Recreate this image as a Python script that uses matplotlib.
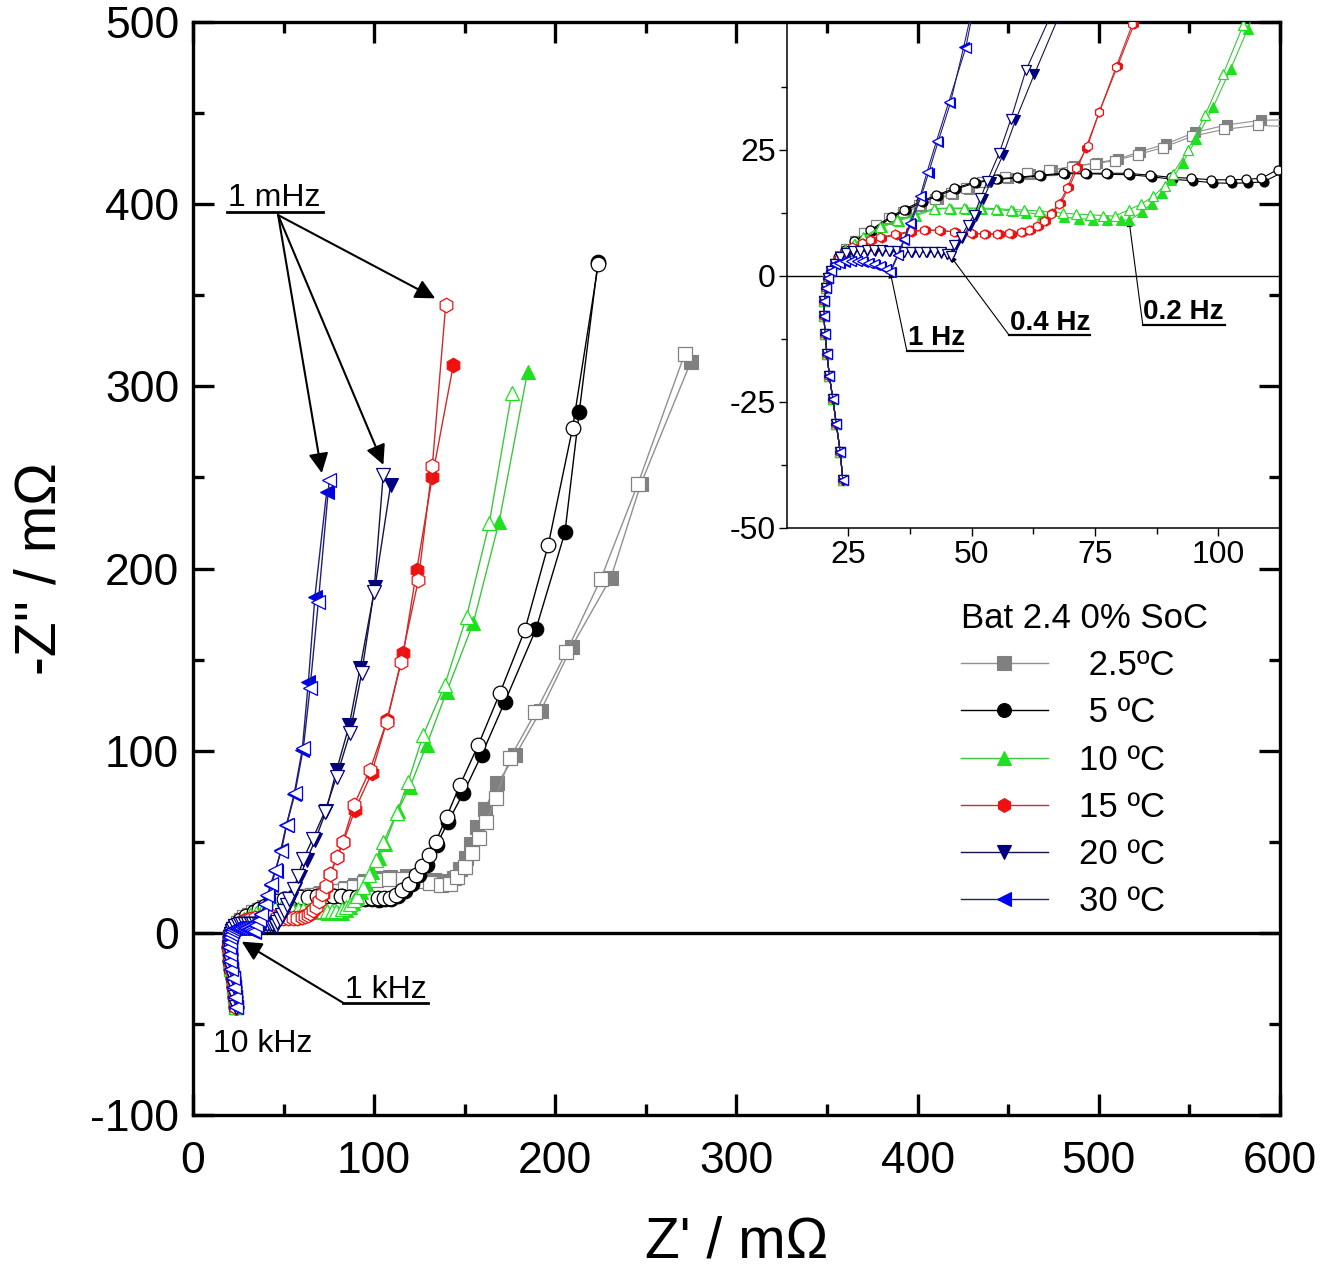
import matplotlib
matplotlib.use("Agg")
import matplotlib.pyplot as plt

plt.rcParams['font.family'] = ['Liberation Sans', 'DejaVu Sans']
plt.rcParams['axes.unicode_minus'] = False

# shared inductive tail (10 kHz -> ~1 kHz)
hf_re = [23.9, 23.4, 22.6, 21.9, 21.2, 20.7, 20.3, 20.1, 20.2, 20.5, 21.0, 21.6, 22.3]
hf_im = [-40.5, -35.0, -29.5, -24.5, -20.0, -15.5, -11.5, -8.0, -5.0, -2.5, -0.5, 1.0, 2.3]

# 2.5 C
t25_re_f = [23.5, 24.9, 26.6, 28.7, 31.1, 33.8, 36.7, 39.8, 43.1, 46.3, 49.4, 52.8, 57.3, 61.8, 66.2, 70.8,
            75.5, 79.6, 84.2, 89.4, 95.2, 101.8, 108.6, 118, 126, 133, 139, 144, 147.5, 150.5, 153.5, 157,
            161, 168, 178, 192, 209, 230.7, 247.2, 274.8]
t25_im_f = [3.7, 5.2, 6.8, 8.4, 9.9, 11.3, 12.6, 13.9, 15.1, 16.2, 17.2, 18.5, 19.4, 20.2, 20.9, 21.7,
            22.4, 23.1, 24.6, 26.1, 28.4, 29.9, 30.8, 31, 30, 29, 28.5, 30, 35, 41, 49, 58,
            68, 82, 97.5, 122, 157, 195, 246.4, 313.5]
t25_re_o = [23.3, 24.6, 26.3, 28.3, 30.7, 33.3, 36.2, 39.3, 42.6, 45.8, 48.8, 52.2, 56.8, 61.3, 65.7, 70.3,
            75.0, 79.1, 83.7, 88.8, 94.6, 101.2, 108.0, 116, 124, 131, 137, 142, 146, 150, 154, 158,
            162, 167, 175, 189, 206, 225, 245.6, 271.5]
t25_im_o = [3.8, 5.3, 6.9, 8.5, 10.0, 11.4, 12.7, 14.0, 15.2, 16.3, 17.3, 18.6, 19.5, 20.3, 20.9, 21.6,
            22.2, 22.8, 24.0, 25.4, 27.6, 29.0, 29.8, 29.5, 28.5, 27.5, 26.5, 27.0, 30.5, 36, 44, 52,
            61, 74, 96, 121, 154, 194, 246.5, 318]

# 5 C
t5_re_f = [23.1, 24.5, 26.5, 29.8, 33.9, 36.7, 40.1, 43.1, 46.9, 50.9, 55.3, 59.7, 64.1, 68.9, 73.3, 77.7,
           82.1, 86.5, 90.9, 94.9, 99.0, 102.7, 106.1, 109.2, 113, 117, 121, 125, 129, 134.5, 140.9, 149.2,
           159.3, 172.2, 189.3, 205.3, 213.2, 223.5]
t5_im_f = [3.5, 4.9, 6.7, 8.9, 11.6, 13.0, 14.6, 15.8, 17.2, 18.4, 19.1, 19.4, 19.8, 20.2, 20.2, 20.1,
           20.0, 19.6, 19.1, 18.8, 18.4, 18.3, 18.4, 18.6, 20.5, 23, 27, 31.5, 37, 48.3, 61.1, 76.7,
           97.7, 127, 166.7, 219.8, 286, 368]
t5_re_o = [23.0, 24.3, 26.2, 29.5, 33.6, 36.3, 39.7, 42.7, 46.5, 50.5, 54.9, 59.3, 63.7, 68.5, 72.9, 77.3,
           81.7, 86.1, 90.5, 94.5, 98.6, 102.3, 105.7, 108.7, 112, 115.5, 119.5, 123, 126.5, 130, 134, 140,
           147.4, 157.5, 169.4, 183.2, 196.1, 209.5, 223.7]
t5_im_o = [3.6, 5.0, 6.8, 9.0, 11.7, 13.1, 14.7, 15.9, 17.3, 18.5, 19.2, 19.5, 19.9, 20.3, 20.3, 20.3,
           20.3, 19.9, 19.5, 19.3, 19.0, 19.0, 19.1, 19.3, 21, 23.5, 27, 31.5, 36.5, 42.5, 50, 63.8,
           81.2, 103.2, 131.6, 166.3, 213, 277, 367]

# 10 C
t10_re_f = [23.1, 24.5, 26.4, 28.4, 31.8, 35.2, 38.7, 42.6, 45.8, 48.8, 52.2, 55.3, 58.3, 61.1, 64.3, 68.8,
            71.8, 74.6, 77.5, 80.3, 82.0, 84.5, 86.5, 88.5, 90.5, 92.8, 95.5, 99.0, 102.5, 106.0, 113.0, 119.8,
            129.0, 140.0, 154.7, 169.0, 184.7]
t10_im_f = [3.6, 4.9, 6.2, 7.5, 9.6, 10.9, 11.9, 13.2, 13.3, 13.3, 13.2, 13.1, 12.8, 12.5, 12.1, 11.6,
            11.3, 11.1, 11.0, 11.0, 11.0, 12.6, 14.3, 16.4, 19.0, 22.4, 27.0, 33.5, 41.0, 49.0, 67.0, 80.3,
            103.2, 132.4, 170.0, 225.7, 308.1]
t10_re_o = [23.0, 24.4, 26.2, 28.1, 31.5, 34.9, 38.3, 42.3, 45.4, 48.4, 51.8, 54.9, 57.9, 60.6, 63.7, 68.5,
            71.2, 73.9, 76.6, 79.0, 82.0, 84.4, 86.8, 89.1, 90.8, 93.9, 97.3, 101.0, 105.1, 112.4, 118.8, 127.1,
            139, 151, 163.5, 175.9]
t10_im_o = [3.7, 5.0, 6.3, 7.6, 9.7, 11.0, 12.0, 13.3, 13.4, 13.4, 13.4, 13.3, 13.1, 13.0, 12.8, 12.4,
            12.2, 12.1, 11.9, 11.8, 13.1, 14.2, 15.7, 17.8, 20.2, 25.0, 31.8, 40.0, 49.8, 65.7, 83, 108.7,
            136.1, 173.6, 224.8, 296.2]

# 15 C
t15_re_f = [23.3, 24.6, 26.0, 28.0, 29.9, 31.9, 34.9, 38.0, 40.8, 43.9, 46.9, 50.3, 53.0, 55.7, 58.1, 60.4,
            62.0, 63.6, 65.0, 66.4, 68.1, 69.8, 71.6, 73.2, 75.9, 79.6, 83.0, 89.4, 98.6, 107.2, 116.1, 123.5,
            132.1, 143.7]
t15_im_f = [3.3, 4.5, 5.5, 6.4, 7.0, 7.5, 8.1, 8.7, 9.0, 8.9, 8.6, 8.3, 8.2, 8.2, 8.3, 8.6,
            9.1, 9.9, 10.9, 12.4, 14.4, 17.6, 21.6, 25.4, 32.5, 41.6, 50.0, 67.5, 87.6, 116.9, 153.5, 199.2,
            250.4, 311.7]
t15_re_o = [23.2, 24.4, 25.7, 27.7, 29.5, 31.5, 34.5, 37.6, 40.3, 43.4, 46.4, 49.8, 52.5, 55.2, 57.6, 60.0,
            61.6, 63.3, 64.7, 66.0, 67.7, 69.4, 71.1, 73.5, 75.9, 79.3, 82.6, 88.9, 97.7, 106.9, 114.8, 124.4,
            132.1, 139.5]
t15_im_o = [3.4, 4.6, 5.6, 6.5, 7.1, 7.6, 8.2, 8.8, 9.1, 9.0, 8.7, 8.4, 8.3, 8.3, 8.4, 8.7,
            9.1, 9.9, 10.8, 12.3, 14.2, 17.4, 21.3, 25.7, 32.5, 41.4, 49.9, 70.3, 89.5, 116.0, 148.9, 193.7,
            256.3, 344.7]

# 20 C
t20_re_f = [23.4, 24.7, 26.0, 27.4, 28.9, 30.4, 31.9, 33.4, 34.9, 36.4, 37.9, 39.4, 40.9, 42.4, 43.9, 45.1,
            45.9, 46.8, 48.1, 49.6, 51.0, 52.4, 53.9, 56.4, 58.9, 62.7, 67.5, 73.5, 79.3, 86.3, 92.2, 100.5,
            109.1]
t20_im_f = [3.6, 4.3, 4.7, 4.8, 4.9, 4.9, 4.9, 4.8, 4.7, 4.6, 4.6, 4.6, 4.6, 4.6, 4.5, 4.2,
            3.9, 6.0, 7.5, 9.9, 11.9, 15.2, 18.6, 24.0, 30.8, 39.9, 51.0, 67.0, 89.5, 114.2, 145.3, 190.0,
            245.9]
t20_re_o = [23.3, 24.6, 25.9, 27.3, 28.8, 30.3, 31.8, 33.3, 34.8, 36.3, 37.8, 39.3, 40.8, 42.3, 43.8, 45.0,
            45.8, 46.5, 47.8, 49.2, 50.5, 51.8, 53.2, 55.6, 58.0, 61.0, 66.0, 72.8, 79.3, 86.6, 93.1, 99.9,
            105.0]
t20_im_o = [3.7, 4.4, 4.8, 4.9, 5.0, 5.0, 5.0, 4.9, 4.8, 4.7, 4.7, 4.7, 4.7, 4.7, 4.6, 4.3,
            3.9, 6.1, 7.6, 10.0, 12.0, 15.3, 18.8, 24.3, 31.1, 40.7, 51.5, 66.6, 85.8, 109.6, 142.5, 187.3,
            251.4]

# 30 C
t30_re_f = [23.3, 24.4, 25.6, 26.8, 28.0, 29.2, 30.4, 31.6, 32.7, 33.6, 35.1, 36.4, 37.7, 39.8, 41.3, 43.2,
            45.7, 48.4, 51.5, 55.8, 60.3, 63.7, 67.3, 73.8]
t30_im_f = [2.5, 2.7, 2.8, 2.8, 2.7, 2.5, 2.2, 1.8, 1.3, 0.7, 4.0, 7.1, 10.3, 15.7, 20.4, 26.5,
            34.2, 45.3, 59.0, 76.0, 100.5, 137.9, 184.6, 242.2]
t30_re_o = [23.2, 24.3, 25.5, 26.7, 27.9, 29.1, 30.3, 31.5, 32.6, 33.5, 35.0, 36.3, 37.5, 39.6, 41.0, 42.9,
            45.4, 48.8, 51.7, 56.3, 60.9, 64.6, 69.2, 75.2]
t30_im_o = [2.6, 2.8, 2.9, 2.9, 2.8, 2.6, 2.3, 1.9, 1.4, 0.8, 4.1, 7.2, 10.4, 15.8, 20.6, 26.7,
            34.5, 45.1, 59.3, 76.7, 101.4, 134.3, 181.8, 248.6]

labels = [' 2.5ºC', ' 5 ºC', '10 ºC', '15 ºC', '20 ºC', '30 ºC']
markers = ['s', 'o', '^', 'h', 'v', '<']
mcolors = ['#808080', '#000000', '#1ee01e', '#f01010', '#000080', '#0000f0']
lcolors = ['#909090', '#000000', '#3cc83c', '#d02a2a', '#14144a', '#20207a']
filled = [(t25_re_f, t25_im_f), (t5_re_f, t5_im_f), (t10_re_f, t10_im_f),
          (t15_re_f, t15_im_f), (t20_re_f, t20_im_f), (t30_re_f, t30_im_f)]
opened = [(t25_re_o, t25_im_o), (t5_re_o, t5_im_o), (t10_re_o, t10_im_o),
          (t15_re_o, t15_im_o), (t20_re_o, t20_im_o), (t30_re_o, t30_im_o)]

fig = plt.figure(figsize=(13.2, 12.71), dpi=100)
ax = fig.add_axes([0.1462, 0.1227, 0.8235, 0.86])
axin = fig.add_axes([0.5962, 0.5848, 0.3735, 0.3979])


def draw(a, ms, lw):
    handles = []
    for i in range(6):
        xf, yf = filled[i]
        xo, yo = opened[i]
        h, = a.plot(hf_re + xf, hf_im + yf, color=lcolors[i], lw=lw, marker=markers[i], ms=ms,
                    mfc=mcolors[i], mec=mcolors[i], mew=0.8, zorder=3 + i)
        a.plot(hf_re + xo, hf_im + yo, color=lcolors[i], lw=lw, marker=markers[i], ms=ms,
               mfc='white', mec=mcolors[i], mew=0.9, zorder=3 + i)
        handles.append(h)
    return handles


handles = draw(ax, 10.5, 1.0)
ax.axhline(0, color='black', lw=2.4, zorder=2)
ax.set_xlim(0, 600)
ax.set_ylim(-100, 500)
ax.set_xticks(range(0, 601, 100))
ax.set_yticks(range(-100, 501, 100))
ax.set_xticks(range(50, 600, 100), minor=True)
ax.set_yticks(range(-50, 500, 100), minor=True)
ax.tick_params(which='both', direction='in', top=True, right=True, width=2.4, labelsize=32)
ax.tick_params(which='major', length=15)
ax.tick_params(which='minor', length=8)
ax.tick_params(axis='x', pad=19)
ax.tick_params(axis='y', pad=10)
for s in ax.spines.values():
    s.set_linewidth(2.4)
ax.set_xlabel("Z' / mΩ", fontsize=41, labelpad=24)
ax.set_ylabel("-Z'' / mΩ", fontsize=41, labelpad=16)

# 1 mHz annotation
ax.text(19.5, 399, '1 mHz', fontsize=23, va='baseline')
ax.plot([18.6, 71.6], [395.5, 395.5], color='black', lw=2)
for tip in [(71.1, 252.4), (105.1, 256.9), (133.7, 348.3)]:
    ax.annotate('', xy=tip, xytext=(47, 394),
                arrowprops=dict(arrowstyle='-|>', mutation_scale=30, lw=1.5, color='black',
                                shrinkA=0, shrinkB=0))
# 1 kHz / 10 kHz
ax.text(84, -35.5, '1 kHz', fontsize=23, va='baseline')
ax.plot([82.9, 129.8], [-38.4, -38.4], color='black', lw=2)
ax.annotate('', xy=(26.9, -4.8), xytext=(82.9, -38.4),
            arrowprops=dict(arrowstyle='-|>', mutation_scale=30, lw=1.5, color='black',
                            shrinkA=0, shrinkB=0))
ax.text(11, -65.3, '10 kHz', fontsize=23, va='baseline')

leg = ax.legend(handles, labels, title='Bat 2.4 0% SoC', loc='upper left',
                bbox_to_anchor=(961 / 1320, 1 - 602 / 1271), bbox_transform=fig.transFigure,
                frameon=False, fontsize=25, title_fontsize=25, handlelength=2.5,
                handletextpad=0.9, labelspacing=0.41, borderaxespad=0, borderpad=0,
                markerscale=0.95)
leg._legend_box.align = 'left'

# inset (transparent so the main frame ticks stay visible)
draw(axin, 6.5, 0.8)
axin.axhline(0, color='black', lw=1.0, zorder=2)
axin.set_xlim(12.6, 112.5)
axin.set_ylim(-50, 50.3)
axin.set_xticks([25, 50, 75, 100])
axin.set_yticks([-50, -25, 0, 25])
axin.set_xticks([12.5 + 25 * k for k in range(1, 4)], minor=True)
axin.set_yticks([-37.5, -12.5, 12.5, 37.5], minor=True)
axin.tick_params(which='both', direction='out', width=1.0, labelsize=23)
axin.tick_params(axis='x', pad=3)
axin.tick_params(axis='y', pad=2)
axin.tick_params(which='major', length=6)
axin.tick_params(which='minor', length=4.5)
axin.spines['top'].set_visible(False)
axin.spines['right'].set_visible(False)
axin.spines['left'].set_linewidth(1.1)
axin.spines['bottom'].set_linewidth(1.1)
axin.patch.set_visible(False)

for txt, tx, ty, ux0, ux1, uy, tip in [
        ('1 Hz', 37.2, -13.8, 36.9, 48.3, -15.0, (33.5, 0.8)),
        ('0.4 Hz', 57.7, -10.8, 57.6, 74.1, -11.8, (45.7, 3.9)),
        ('0.2 Hz', 84.8, -8.7, 84.7, 101.4, -9.8, (81.9, 11.0))]:
    axin.text(tx, ty, txt, fontsize=20, fontweight='bold', va='baseline')
    axin.plot([ux0, ux1], [uy, uy], color='black', lw=1.6)
    axin.annotate('', xy=tip, xytext=(ux0, uy),
                  arrowprops=dict(arrowstyle='-|>', mutation_scale=9, lw=0.8, color='black',
                                  shrinkA=0, shrinkB=0))

fig.savefig('out.png', dpi=100)
